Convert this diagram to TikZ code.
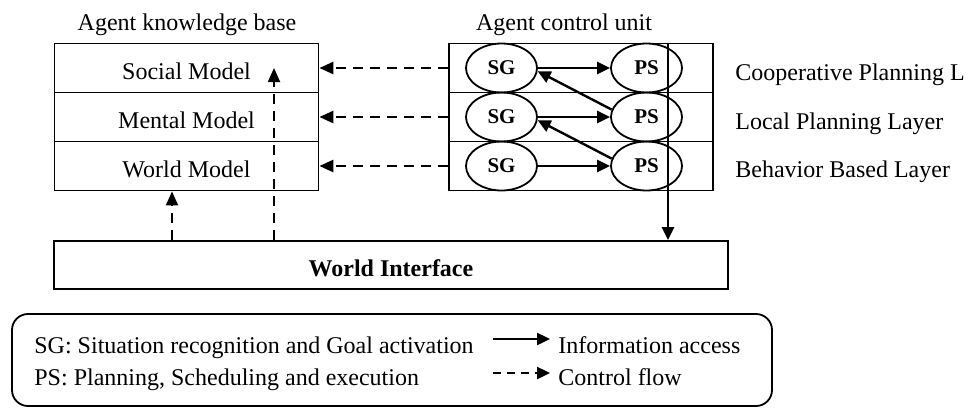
\documentclass[tikz,border=0pt]{standalone}
\usepackage{fontspec}
\setmainfont{Liberation Serif}
\usetikzlibrary{arrows.meta,shapes.geometric}

\begin{document}
\begin{tikzpicture}[x=0.5pt,y=-0.5pt,
  txt/.style={font=\fontsize{12}{14}\selectfont, inner sep=0pt},
  rowbox/.style={draw, line width=0.9pt, minimum width=132pt, minimum height=24.5pt,
    inner sep=0pt, font=\fontsize{12}{14}\selectfont, text height=11.5pt, text depth=0pt},
  unit/.style={draw, ellipse, line width=0.9pt, minimum width=35.5pt, minimum height=24.5pt,
    inner sep=0pt, font=\fontsize{10.5}{12}\selectfont\bfseries},
  infoarrow/.style={line width=1.2pt, -{Triangle[length=6.5pt,width=6pt]}},
  ctrlarrow/.style={line width=1.3pt, dash pattern=on 5pt off 3.5pt,
    -{Triangle[length=7pt,width=6pt]}},
  upflow/.style={line width=0.9pt, dash pattern=on 5pt off 3.5pt,
    -{Triangle[length=7pt,width=6pt]}}]
\useasboundingbox (0,0) rectangle (968,408);

% headings
\node[txt, anchor=base] (kbtitle) at (187,30) {Agent knowledge base};
\node[txt, anchor=base] (cutitle) at (564,30) {Agent control unit};

% agent knowledge base
\node[rowbox] (kb1) at (186.5,68)  {Social Model};
\node[rowbox] (kb2) at (186.5,117) {Mental Model};
\node[rowbox] (kb3) at (186.5,166) {World Model};

% agent control unit rows
\node[rowbox] (cu1) at (581,68)  {};
\node[rowbox] (cu2) at (581,117) {};
\node[rowbox] (cu3) at (581,166) {};

% SG / PS units
\node[unit] (sg1) at (501.5,68)  {SG};
\node[unit] (sg2) at (501.5,117) {SG};
\node[unit] (sg3) at (501.5,166) {SG};
\node[unit] (ps1) at (646.5,68)  {PS};
\node[unit] (ps2) at (646.5,117) {PS};
\node[unit] (ps3) at (646.5,166) {PS};

% layer names
\node[txt, anchor=base west] (l1) at (735,80)  {Cooperative Planning L};
\node[txt, anchor=base west] (l2) at (735,129) {Local Planning Layer};
\node[txt, anchor=base west] (l3) at (735,177) {Behavior Based Layer};

% world interface
\node[draw, line width=0.9pt, minimum width=337pt, minimum height=24pt, inner sep=0pt,
  font=\fontsize{12}{14}\selectfont\bfseries, text height=11pt, text depth=0pt]
  (wi) at (391,265) {World Interface};

% information access inside the control unit
\draw[infoarrow] (sg1.east) -- (ps1.west);
\draw[infoarrow] (sg2.east) -- (ps2.west);
\draw[infoarrow] (sg3.east) -- (ps3.west);
\draw[infoarrow] (ps2.168) -- (sg1.-5);
\draw[infoarrow] (ps3.168) -- (sg2.-5);

% control flow to the knowledge base
\draw[ctrlarrow] (cu1.west) -- (kb1.east);
\draw[ctrlarrow] (cu2.west) -- (kb2.east);
\draw[ctrlarrow] (cu3.west) -- (kb3.east);

% control unit down to the world interface
\coordinate (vtop) at (668,43);
\draw[infoarrow] (vtop) -- (vtop |- wi.north);

% world interface up to the knowledge base
\coordinate (up1) at (172,0);
\coordinate (up2) at (274,68);
\draw[upflow] (up1 |- wi.north) -- (up1 |- kb3.south);
\draw[upflow] (up2 |- wi.north) -- (up2);

% legend
\node[draw, line width=0.9pt, rounded corners=8pt, minimum width=380pt, minimum height=46pt,
  inner sep=0pt] (legend) at (392,360) {};
\node[txt, anchor=base west] (sgtext) at (34,353) {SG: Situation recognition and Goal activation};
\node[txt, anchor=base west] (pstext) at (34,385) {PS: Planning, Scheduling and execution};
\coordinate (ia1) at (493,339);
\coordinate (ia2) at (550,339);
\coordinate (cf1) at (493,373);
\coordinate (cf2) at (550,373);
\draw[infoarrow] (ia1) -- (ia2);
\draw[line width=1.2pt, dash pattern=on 4pt off 3pt, -{Triangle[length=6.5pt,width=6pt]}] (cf1) -- (cf2);
\node[txt, anchor=base west] (iatext) at (558,353) {Information access};
\node[txt, anchor=base west] (cftext) at (558,385) {Control flow};
\end{tikzpicture}
\end{document}
